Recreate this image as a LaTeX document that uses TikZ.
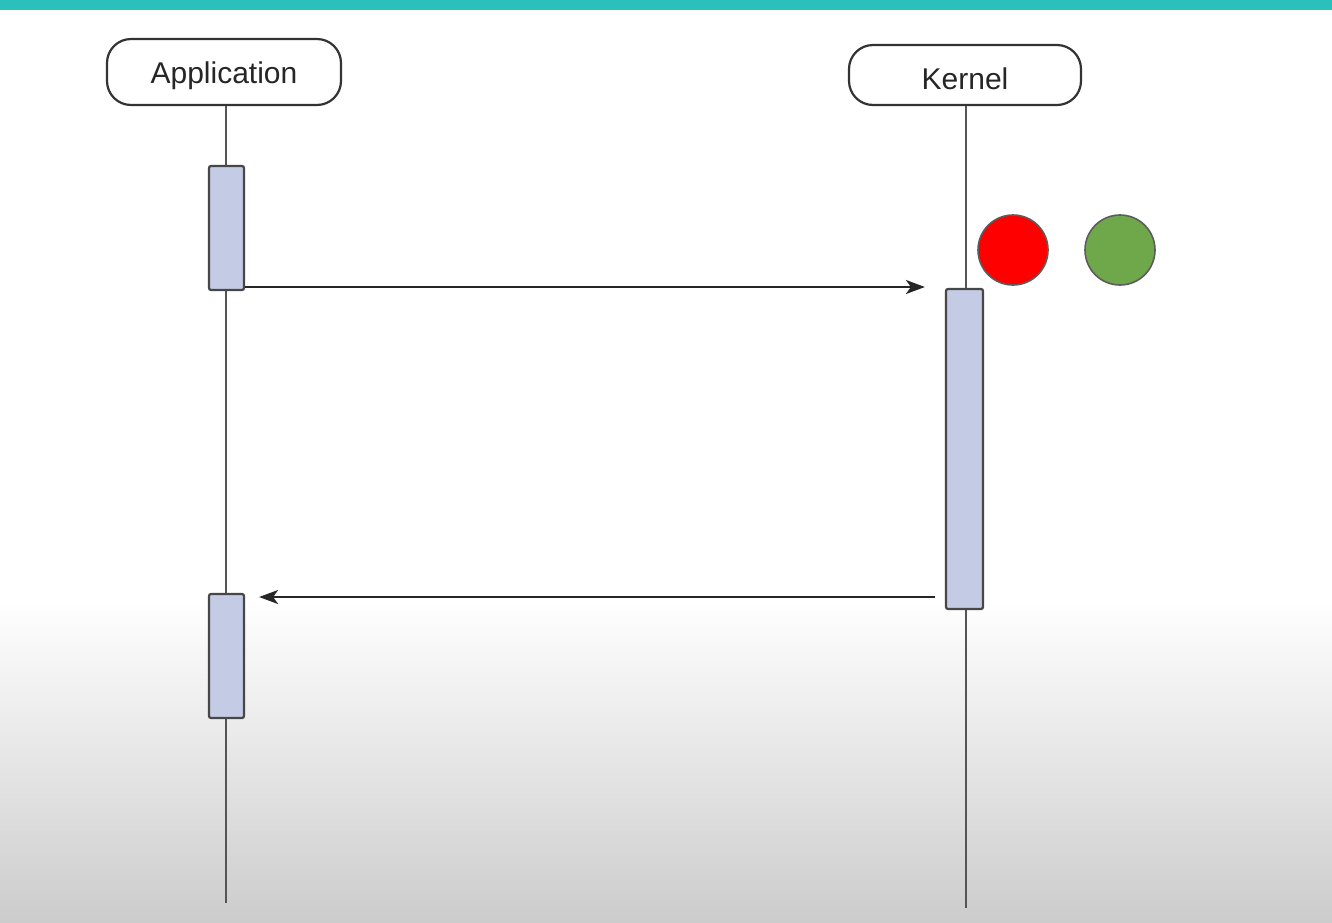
\documentclass[tikz,border=0pt]{standalone}
\usepackage{fontspec}
\setmainfont{Liberation Sans}
\usetikzlibrary{arrows.meta,calc}
\definecolor{teal1}{HTML}{2BC1BB}
\definecolor{linegray}{HTML}{555555}
\definecolor{bordergray}{HTML}{333333}
\definecolor{barfill}{HTML}{C4CCE5}
\definecolor{redc}{HTML}{FF0000}
\definecolor{greenc}{HTML}{6FA84A}
\tikzset{
  headbox/.style={draw=bordergray, line width=1.1pt, rounded corners=12pt, fill=white,
    inner sep=0pt, font=\fontsize{15}{18}\selectfont, text=black!85},
  actbar/.style={draw=bordergray!90, line width=1.1pt, fill=barfill, inner sep=0pt,
    minimum width=17.5pt, rounded corners=1pt},
  lifeline/.style={draw=linegray, line width=1.1pt},
  msg/.style={draw=black!85, line width=1.1pt, -{Stealth[length=9.5pt,width=7pt,inset=2.5pt]}},
  dot/.style={circle, draw=bordergray!80, line width=0.8pt, minimum size=35pt, inner sep=0pt}
}
\begin{document}
\begin{tikzpicture}[x=0.5pt,y=-0.5pt]
\useasboundingbox (0,0) rectangle (1332,922);
% background
\fill[white] (0,0) rectangle (1332,922);
\shade[top color=white, bottom color=black!20] (0,600) rectangle (1332,922);
\fill[teal1] (0,0) rectangle (1332,10);
% heads
\node[headbox, minimum width=117pt, minimum height=33pt, text height=14.5pt, text depth=3.2pt] (app) at (224,72) {Application};
\node[headbox, minimum width=116pt, minimum height=30pt, text height=14.9pt, text depth=0pt] (ker) at (965,75) {Kernel};
% lifeline ends
\coordinate (append) at (226,903);
\coordinate (kerend) at (966,908);
\draw[lifeline] (app.south -| append) -- (append);
\draw[lifeline] (ker.south -| kerend) -- (kerend);
% activation bars
\node[actbar, minimum height=62pt] (a1) at (226.5,228) {};
\node[actbar, minimum height=62pt] (a2) at (226.5,656) {};
\node[actbar, minimum width=18.5pt, minimum height=160pt] (k1) at (964.5,449) {};
% messages
\draw[msg] (a1.east |- 0,287) -- ($(k1.west |- 0,287)+(-20,0)$);
\draw[msg] ($(k1.west |- 0,597)+(-10,0)$) -- ($(a2.east |- 0,597)+(14,0)$);
% circles
\node[dot, fill=redc] (red) at (1013,250) {};
\node[dot, fill=greenc] (green) at (1120,250) {};
\end{tikzpicture}
\end{document}
